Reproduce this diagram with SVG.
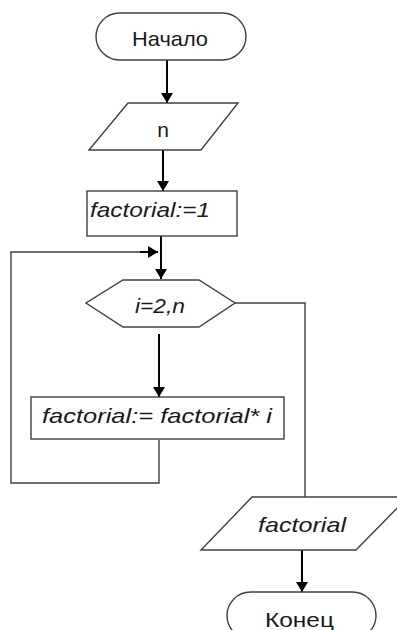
<svg xmlns="http://www.w3.org/2000/svg" width="397" height="630" viewBox="0 0 397 630">
<style>
.shape{fill:#fff;stroke:#404040;stroke-width:1.4}
.line{fill:none;stroke:#404040;stroke-width:1.4}
.arrow{fill:none;stroke:#000;stroke-width:2}
text{font-family:"Liberation Sans",Arial,sans-serif;fill:#1a1a1a;font-size:21px}
.it{font-style:italic}
</style>
<defs>
<marker id="ah" viewBox="0 0 10 12" refX="10" refY="6" markerWidth="10" markerHeight="12" markerUnits="userSpaceOnUse" orient="auto">
<path d="M0,0 L10,6 L0,12 Z" fill="#000"/>
</marker>
</defs>
<g id="connectors">
<line class="arrow" x1="167" y1="60" x2="167" y2="103" marker-end="url(#ah)"/>
<line class="arrow" x1="163" y1="150" x2="163" y2="191" marker-end="url(#ah)"/>
<line class="arrow" x1="161" y1="236" x2="161" y2="279" marker-end="url(#ah)"/>
<polyline class="line" points="159,440 159,483 11,483 11,252 150,252"/>
<line class="arrow" x1="140" y1="252" x2="158" y2="252" marker-end="url(#ah)"/>
<line class="arrow" x1="159" y1="334" x2="159" y2="397" marker-end="url(#ah)"/>
<polyline class="line" points="235,303 305,303 305,497"/>
<line class="arrow" x1="302" y1="550" x2="302" y2="592" marker-end="url(#ah)"/>
</g>
<g id="start">
<rect class="shape" x="96" y="13" width="150" height="47" rx="23.5" ry="23.5"/>
<text x="132" y="46" textLength="76" lengthAdjust="spacingAndGlyphs">Начало</text>
</g>
<g id="input-n">
<polygon class="shape" points="128,103 238,103 201,150 89,150"/>
<text x="163" y="137" text-anchor="middle">n</text>
</g>
<g id="init">
<rect class="shape" x="87" y="191" width="150" height="45"/>
<text class="it" x="90" y="217" textLength="120" lengthAdjust="spacingAndGlyphs">factorial:=1</text>
</g>
<g id="loop">
<polygon class="shape" points="123,280 199,280 235,303 199,327 123,327 86,303"/>
<text class="it" x="135" y="313" textLength="50" lengthAdjust="spacingAndGlyphs">i=2,n</text>
</g>
<g id="body">
<rect class="shape" x="31" y="397" width="253" height="42"/>
<text class="it" x="42" y="423" textLength="230" lengthAdjust="spacingAndGlyphs">factorial:=  factorial* i</text>
</g>
<g id="output">
<polygon class="shape" points="252,497 408,497 356,550 201,550"/>
<text class="it" x="258" y="532" textLength="88" lengthAdjust="spacingAndGlyphs">factorial</text>
</g>
<g id="end">
<rect class="shape" x="227" y="592" width="149" height="47" rx="23.5" ry="23.5"/>
<text x="265" y="627" textLength="69" lengthAdjust="spacingAndGlyphs">Конец</text>
</g>
</svg>
